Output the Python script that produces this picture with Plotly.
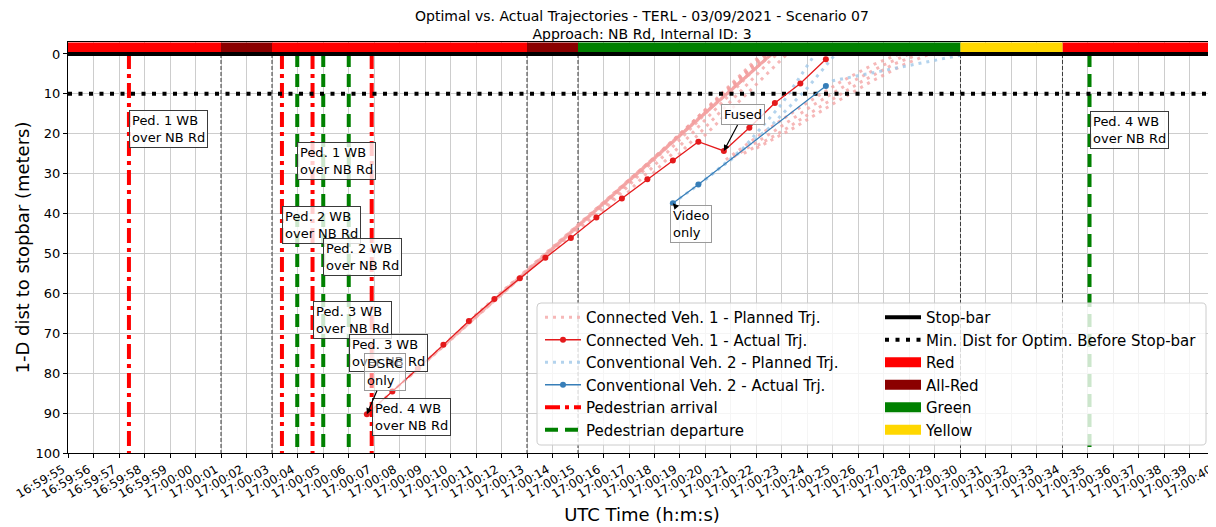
import plotly.graph_objects as go

DAY = "2021-03-09 "

# axis window (UTC)
x_start = "16:59:55"
x_end = "17:00:40.02"

# signal phases for the NB Rd approach
phase_name = ["Red", "All-Red", "Red", "All-Red", "Green", "Yellow", "Red"]
phase_start = ["16:59:50", "17:00:01", "17:00:03", "17:00:13", "17:00:15", "17:00:30", "17:00:34"]
phase_end = ["17:00:01", "17:00:03", "17:00:13", "17:00:15", "17:00:30", "17:00:34", "17:00:45"]

# pedestrians walking WB over NB Rd
ped_ids = [1, 2, 3, 4]
ped_arrival = ["16:59:57.39", "17:00:03.39", "17:00:04.59", "17:00:06.91"]
ped_departure = ["17:00:03.99", "17:00:05.01", "17:00:06.01", "17:00:35.06"]

stopbar_dist = 0
min_optim_dist = 10

# connected vehicle 1 - actual
cv1_t = ["17:00:06.72", "17:00:07.72", "17:00:08.72", "17:00:09.72", "17:00:10.72",
         "17:00:11.72", "17:00:12.72", "17:00:13.72", "17:00:14.72", "17:00:15.72",
         "17:00:16.72", "17:00:17.72", "17:00:18.72", "17:00:19.72", "17:00:20.72",
         "17:00:21.72", "17:00:22.72", "17:00:23.72", "17:00:24.72"]
cv1_d = [90.3, 84.6, 78.8, 72.9, 66.9, 61.4, 56.2, 51.1, 46.1, 41.0,
         36.2, 31.4, 26.7, 22.0, 24.3, 18.5, 12.3, 7.4, 1.3]

# connected vehicle 1 - planned trajectories
cv1_plans = [
    (["17:00:06.72", "17:00:22.6"], [90.3, 0]),
    (["17:00:07.72", "17:00:22.6"], [84.6, 0]),
    (["17:00:08.72", "17:00:22.6"], [78.8, 0]),
    (["17:00:09.72", "17:00:22.6"], [72.9, 0]),
    (["17:00:10.72", "17:00:22.6"], [66.9, 0]),
    (["17:00:11.72", "17:00:22.6"], [61.4, 0]),
    (["17:00:12.72", "17:00:22.5"], [56.2, 0]),
    (["17:00:13.72", "17:00:22.4"], [51.1, 0]),
    (["17:00:14.72", "17:00:22.3"], [46.1, 0]),
    (["17:00:15.72", "17:00:22.2"], [41.0, 0]),
    (["17:00:16.72", "17:00:22.3"], [36.2, 0]),
    (["17:00:17.72", "17:00:22.5"], [31.4, 0]),
    (["17:00:18.72", "17:00:22.8"], [26.7, 0]),
    (["17:00:19.72", "17:00:23.2"], [22.0, 0]),
    (["17:00:20.8", "17:00:22.3", "17:00:23.8", "17:00:25.3", "17:00:26.6", "17:00:27.6"],
     [26.5, 19.5, 13.0, 7.0, 2.6, 0]),
    (["17:00:21.1", "17:00:22.7", "17:00:24.2", "17:00:25.7", "17:00:27.0", "17:00:28.0"],
     [25.8, 19.3, 12.9, 7.1, 2.7, 0]),
    (["17:00:21.5", "17:00:23.1", "17:00:24.6", "17:00:26.1", "17:00:27.4", "17:00:28.4"],
     [24.9, 19.0, 12.8, 7.0, 2.5, 0]),
    (["17:00:22.0", "17:00:23.5", "17:00:25.0", "17:00:26.5", "17:00:27.8", "17:00:28.8"],
     [23.6, 18.4, 12.5, 6.9, 2.6, 0]),
]

# conventional vehicle 2 - actual
cv2_t = ["17:00:18.72", "17:00:19.72", "17:00:24.72"]
cv2_d = [37.4, 32.7, 8.0]

# conventional vehicle 2 - planned trajectories
cv2_plans = [
    (["17:00:18.72", "17:00:20.0", "17:00:21.5", "17:00:23.0", "17:00:24.3"], [37.4, 31.5, 23.5, 12.5, 0]),
    (["17:00:19.72", "17:00:21.0", "17:00:22.5", "17:00:24.0", "17:00:25.1"], [32.7, 26.5, 18.5, 8.5, 0]),
    (["17:00:24.72", "17:00:25.0", "17:00:30.0"], [8.0, 6.7, 0.3]),
]

SIGNAL_COLORS = {"Red": "#ff0000", "All-Red": "#8b0000", "Green": "#008000", "Yellow": "#ffd700"}


def ts(s):
    return DAY + s


def vlines(times, y0=0, y1=100):
    xs, ys = [], []
    for t in times:
        xs += [ts(t), ts(t), None]
        ys += [y0, y1, None]
    return xs, ys


def joined(plans):
    xs, ys = [], []
    for tt, dd in plans:
        xs += [ts(t) for t in tt] + [None]
        ys += list(dd) + [None]
    return xs, ys


fig = go.Figure()

# phase change boundaries
xs, ys = vlines(phase_start[1:])
fig.add_trace(go.Scatter(x=xs, y=ys, mode="lines", line=dict(color="#3a3a3a", width=1, dash="4px,2px"),
                         showlegend=False, hoverinfo="skip"))

# pedestrian arrival / departure
xs, ys = vlines(ped_arrival)
fig.add_trace(go.Scatter(x=xs, y=ys, mode="lines", name="Pedestrian arrival",
                         line=dict(color="#ff0000", width=4, dash="15px,5px,4px,5px"),
                         legend="legend", legendrank=5))
xs, ys = vlines(ped_departure)
fig.add_trace(go.Scatter(x=xs, y=ys, mode="lines", name="Pedestrian departure",
                         line=dict(color="#008000", width=4, dash="13px,7px"),
                         legend="legend", legendrank=6))

# planned trajectories
xs, ys = joined(cv1_plans)
fig.add_trace(go.Scatter(x=xs, y=ys, mode="lines", name="Connected Veh. 1 - Planned Trj.",
                         line=dict(color="rgba(243,160,160,0.75)", width=3, dash="3px,5px"),
                         legend="legend", legendrank=1))
xs, ys = joined(cv2_plans)
fig.add_trace(go.Scatter(x=xs, y=ys, mode="lines", name="Conventional Veh. 2 - Planned Trj.",
                         line=dict(color="rgba(160,200,232,0.8)", width=3, dash="3px,5px"),
                         legend="legend", legendrank=3))

# min distance for optimization
fig.add_trace(go.Scatter(x=[ts(x_start), ts(x_end)], y=[min_optim_dist] * 2, mode="lines",
                         name="Min. Dist for Optim. Before Stop-bar",
                         line=dict(color="black", width=4, dash="4px,6.5px"),
                         legend="legend2", legendrank=2))

# actual trajectories
fig.add_trace(go.Scatter(x=[ts(t) for t in cv1_t], y=cv1_d, mode="lines+markers",
                         name="Connected Veh. 1 - Actual Trj.",
                         line=dict(color="#e41a1c", width=1.3), marker=dict(size=6, color="#e41a1c"),
                         legend="legend", legendrank=2))
fig.add_trace(go.Scatter(x=[ts(t) for t in cv2_t], y=cv2_d, mode="lines+markers",
                         name="Conventional Veh. 2 - Actual Trj.",
                         line=dict(color="#377eb8", width=1.3), marker=dict(size=6, color="#377eb8"),
                         legend="legend", legendrank=4))

# signal status bar on top of the stop-bar
for rank, (name, color) in enumerate(SIGNAL_COLORS.items()):
    xs, ys = [], []
    for n, s, e in zip(phase_name, phase_start, phase_end):
        if n == name:
            xs += [ts(s), ts(e), None]
            ys += [-1.5, -1.5, None]
    fig.add_trace(go.Scatter(x=xs, y=ys, mode="lines", name=name,
                             line=dict(color=color, width=11),
                             legend="legend2", legendrank=3 + rank))

# stop-bar
fig.add_trace(go.Scatter(x=[ts(x_start), ts(x_end)], y=[stopbar_dist] * 2, mode="lines", name="Stop-bar",
                         line=dict(color="black", width=4), legend="legend2", legendrank=1))

# annotations
arr_label_y = [14.0, 38.1, 62.0, 86.1]
dep_label_y = [22.0, 46.1, 70.1, 14.3]
box = dict(bgcolor="rgba(255,255,255,0.8)", bordercolor="#3a3a3a", borderwidth=1, borderpad=2,
           font=dict(size=13, color="black"), align="left")
annotations = []
for pid, t, y in zip(ped_ids, ped_arrival, arr_label_y):
    annotations.append(dict(x=ts(t), y=y, xanchor="left", yanchor="top", showarrow=False,
                            text=f"Ped. {pid} WB<br>over NB Rd", **box))
for pid, t, y in zip(ped_ids, ped_departure, dep_label_y):
    annotations.append(dict(x=ts(t), y=y, xanchor="left", yanchor="top", showarrow=False,
                            text=f"Ped. {pid} WB<br>over NB Rd", **box))

arrow = dict(showarrow=True, arrowhead=2, arrowsize=1, arrowwidth=1.2, arrowcolor="black",
             font=dict(size=13, color="black"), borderwidth=1, borderpad=2, align="left")
annotations.append(dict(x=ts(cv1_t[0]), y=cv1_d[0], ax=18, ay=-42, text="DSRC<br>only",
                        bgcolor="rgba(255,255,255,0.5)", bordercolor="#9a9a9a", **arrow))
annotations.append(dict(x=ts(cv1_t[14]), y=cv1_d[14], ax=19, ay=-36, text="Fused",
                        bgcolor="rgba(255,255,255,0.8)", bordercolor="#9a9a9a", **arrow))
annotations.append(dict(x=ts(cv2_t[0]), y=cv2_d[0], ax=18, ay=21, text="Video<br>only",
                        bgcolor="rgba(255,255,255,0.8)", bordercolor="#9a9a9a", **arrow))

# page coordinates: the html body adds an 8px margin around the figure
OFF = 8
FIG_W, FIG_H = 1216 - OFF, 527 - OFF
L, T, W, H = 68, 42, 1148, 411  # plot area in page pixels


def px2paper(px, py):
    return (px - L) / W, (T + H - py) / H


def rounded_path(x0, y0, x1, y1, r=4):
    a = px2paper
    p = [a(x0 + r, y0), a(x1 - r, y0), a(x1, y0), a(x1, y0 + r), a(x1, y1 - r), a(x1, y1),
         a(x1 - r, y1), a(x0 + r, y1), a(x0, y1), a(x0, y1 - r), a(x0, y0 + r), a(x0, y0), a(x0 + r, y0)]
    f = lambda q: f"{q[0]:.5f},{q[1]:.5f}"
    return (f"M{f(p[0])} L{f(p[1])} Q{f(p[2])} {f(p[3])} L{f(p[4])} Q{f(p[5])} {f(p[6])} "
            f"L{f(p[7])} Q{f(p[8])} {f(p[9])} L{f(p[10])} Q{f(p[11])} {f(p[12])} Z")


shapes = [dict(type="path", xref="paper", yref="paper", path=rounded_path(537, 303, 1206, 445),
               fillcolor="rgba(255,255,255,0.8)", line=dict(color="#cccccc", width=1), layer="above")]

lx1, ly = px2paper(540, 301)
lx2, _ = px2paper(880, 301)

fig.update_layout(
    width=FIG_W, height=FIG_H,
    margin=dict(l=L - OFF, r=FIG_W - (L - OFF) - W, t=T - OFF, b=FIG_H - (T - OFF) - H, autoexpand=False),
    font=dict(family="DejaVu Sans", color="black"),
    plot_bgcolor="white", paper_bgcolor="white",
    title=dict(text="Optimal vs. Actual Trajectories - TERL - 03/09/2021 - Scenario 07<br>"
                    "Approach: NB Rd, Internal ID: 3",
               x=0.5, xref="paper", xanchor="center", y=1 - 12.5 / FIG_H, yref="container", yanchor="top",
               font=dict(size=14, color="black")),
    xaxis=dict(type="date", range=[ts(x_start), ts(x_end)], tick0=ts(x_start), dtick=1000,
               tickformat="%H:%M:%S", tickangle=-30, ticks="outside", ticklen=4, tickcolor="black",
               tickfont=dict(size=12), ticklabeloverflow="allow", ticklabelshift=-5,
               showgrid=True, gridcolor="#cdcdcd", gridwidth=1.2,
               showline=True, linecolor="black", linewidth=1, mirror=True, zeroline=False,
               automargin=False,
               title=dict(text="UTC Time (h:m:s)", font=dict(size=18), standoff=8)),
    yaxis=dict(range=[100, -3], tick0=0, dtick=10, ticks="outside", ticklen=4, tickcolor="black",
               tickfont=dict(size=13), showgrid=True, gridcolor="#cdcdcd", gridwidth=1.2,
               showline=True, linecolor="black", linewidth=1, mirror=True, zeroline=False,
               automargin=False,
               title=dict(text="1-D dist to stopbar (meters)", font=dict(size=18), standoff=1)),
    legend=dict(x=lx1, y=ly, xanchor="left", yanchor="top", bgcolor="rgba(0,0,0,0)", borderwidth=0,
                font=dict(size=15), itemwidth=36, traceorder="normal"),
    legend2=dict(x=lx2, y=ly, xanchor="left", yanchor="top", bgcolor="rgba(0,0,0,0)", borderwidth=0,
                 font=dict(size=15), itemwidth=36, traceorder="normal"),
    annotations=annotations,
    shapes=shapes,
    showlegend=True,
)

fig.write_html("out.html")
